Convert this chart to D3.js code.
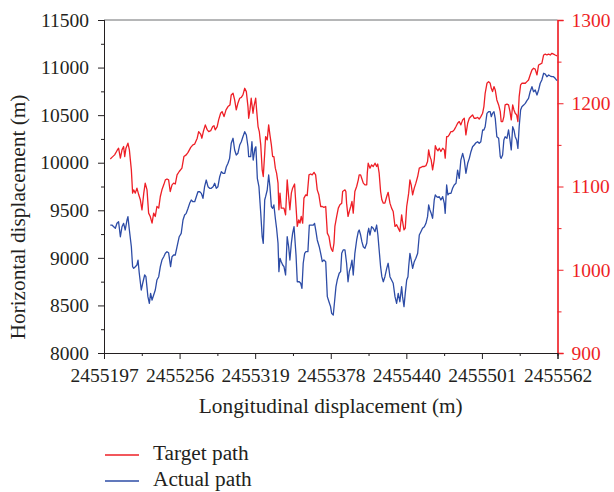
<!DOCTYPE html>
<html>
<head>
<meta charset="utf-8">
<script src="https://cdn.jsdelivr.net/npm/d3@7"></script>
<style>
  body { margin: 0; background: #fff; }
  svg text { font-family: "Liberation Serif", "Times New Roman", serif; fill: #231f20; }
</style>
</head>
<body>
<div id="chart"></div>
<script>
// trading-day index (0 = 2455197) and values
var targetDay = [3.5,4.4,5.9,7.2,8.1,9.1,10,10.9,11.5,12.2,13.3,14.1,15.2,15.9,16.5,17.4,18.3,19.3,20.2,21.1,22.1,22.9,23.9,24.8,25.7,26.7,27.6,28.5,29.4,30.4,31.3,32.2,33.2,34.1,35,35.9,36.8,37.8,38.7,39.6,40.6,41.8,
  43.3,44.4,45.7,46.7,48.2,49.4,50.4,51.8,52.6,53.7,54.4,55.2,56.3,57.4,58.2,59.3,60.4,61.1,61.8,62.9,63.7,64.8,65.6,66.7,67.8,68.9,70,70.7,71.7,72.6,73.5,74.4,75.4,76.3,77.2,78.2,79.1,80,80.4,81.1,81.8,82.8,83.3,
  84.3,84.8,85.6,86.3,87.1,87.9,88.5,89.3,89.8,90.7,91.5,92.2,93,93.7,94.4,95.2,95.9,96.7,97.2,97.8,98.5,99.3,100,100.9,101.8,102.6,103.3,104.1,104.8,105.9,106.7,107.4,108.2,108.9,109.6,110.4,111.1,112.1,112.9,113.9,114.8,115.7,116.7,117.6,118.5,119.4,120.4,121.3,122.2,123.2,124.1,125,125.9,
  126.5,127.1,127.8,128.3,129.3,130.2,131.1,132.1,132.6,133.9,134.4,134.8,135.6,136.3,137.1,137.8,138.5,139.4,140.4,141.3,141.8,142.6,143.2,144.1,145,146,146.3,146.8,147.8,148.7,149.6,150.6,151.5,152.1,152.9,153.7,154.4,155.2,156.1,157.1,157.9,158.9,159.8,160.7,161.7,162.6,163.5,164.4,165.4,165.9,166.7,167.4,168.2,168.9,
  169.3,170,170.7,171.5,172.4,173.3,174.3,175.2,176.1,177,178,178.9,179.8,180.4,181.1,181.8,182.6,183.5,184.1,184.8,185.6,186.3,187.2,188.2,189.1,189.6,190.4,191.1,191.8,192.8,193.7,194.6,195.6,196.5,197.4,198.3,199.3,200.2,201.1,202.1,203,203.9,204.8,205.7,206.7,207.6,208.5,209.4,210.4,211.1,
  211.8,212.8,213.7,214.6,215.2,215.9,216.7,217.4,218.3,219.3,220.2,220.7,221.5,222.2,222.9,223.9,224.8,225.6,226.3,227.1,227.8,228.5,229.3,230,230.7,231.5,232.2,233.2,234.1,235,235.9,236.8,237.8,238.7,239.6,240.6,241.5,242.4,243.3,244.3,245.2,246.1,247.1,248,248.9,249.8,250.7,251.7];
var targetPath = [1133,1135,1138,1143,1146,1134,1144,1148,1136,1146,1152,1144,1120,1092,1096,1092,1098,1090,1084,1072,1092,1104,1096,1068,1064,1056,1068,1064,1076,1074,1088,1096,1102,1108,1109,1108,1094,1102,1104,1103,1114,1118,
  1122,1136,1138,1141,1147,1150,1151,1158,1166,1163,1158,1166,1174,1168,1166,1167,1172,1173,1168,1172,1180,1188,1190,1184,1192,1196,1198,1210,1212,1204,1192,1200,1206,1207,1210,1218,1214,1196,1182,1192,1206,1188,1196,
  1206,1192,1172,1166,1150,1120,1112,1140,1160,1156,1174,1162,1150,1136,1136,1122,1116,1104,1072,1092,1074,1074,1074,1066,1108,1088,1072,1092,1098,1103,1076,1052,1060,1056,1064,1056,1086,1090,1089,1114,1115,1114,1117,1114,1096,1090,1076,1076,1075,1076,1044,1040,1028,
  1024,1022,1032,1052,1064,1074,1078,1080,1094,1096,1094,1080,1064,1070,1076,1082,1068,1094,1100,1108,1114,1114,1110,1104,1102,1102,1116,1128,1122,1126,1124,1128,1124,1127,1116,1094,1084,1080,1080,1088,1093,1080,1074,1070,1052,1054,1050,1046,1066,1058,1048,1050,1076,1086,
  1092,1108,1102,1090,1098,1104,1112,1122,1123,1124,1124,1125,1130,1144,1136,1132,1120,1132,1149,1145,1143,1146,1142,1146,1144,1134,1160,1160,1162,1166,1166,1168,1172,1176,1178,1174,1180,1182,1162,1176,1182,1184,1186,1182,1182,1183,1181,1184,1188,1196,
  1212,1224,1226,1224,1218,1214,1220,1216,1204,1198,1190,1178,1178,1184,1198,1199,1198,1190,1180,1198,1192,1188,1186,1178,1208,1222,1224,1224,1224,1226,1228,1234,1240,1242,1241,1234,1246,1247,1248,1258,1259,1258,1259,1258,1260,1259,1258,1257];

var actualDay = [3.5,4.4,5.4,6.3,7.2,8.1,9.1,10,10.9,11.8,12.8,13.3,14.1,15.2,15.9,16.5,17.4,18.3,18.9,19.6,20.7,21.5,22.6,23.3,24.4,25.2,25.9,26.7,27.6,28.5,29.4,30.4,31.3,32.2,33.2,34.1,35,35.9,37,37.8,38.7,39.6,40.6,41.8,
  42.9,43.9,44.8,45.7,46.7,47.6,48.5,49.4,50.4,51.3,52.2,53.2,54.1,55,55.9,56.8,57.8,58.7,59.6,60.6,61.5,62.4,63.3,64.3,65.2,66.1,67.1,68,68.9,69.8,70.7,71.7,72.6,73.5,74.4,75.4,76.3,77.2,78.2,79.1,80,80.4,81.5,82.2,82.9,83.9,
  84.4,85.2,86.1,87.1,87.9,88.5,89.3,89.8,90.7,91.5,92.2,93,93.7,94.4,95.2,95.9,96.7,97.2,97.8,98.5,99.3,100,100.9,101.8,102.6,103.3,104.1,104.8,105.6,106.7,107.4,108.5,109.3,110,110.7,111.5,112.2,113.3,114.1,115.2,116.3,117,117.8,118.5,119.6,120.4,121.3,122.2,123.2,124.1,125,125.9,
  126.5,127.4,128.2,128.9,129.6,130.7,131.5,132.1,132.9,133.9,134.8,135.6,136.3,137.1,137.8,138.5,139.4,140.4,141.3,141.8,142.6,143.3,144.1,145,146,146.5,147.1,147.8,148.7,149.6,150.6,151.5,152.2,152.9,153.7,154.4,155.2,156.1,157.1,157.9,158.9,159.8,160.7,161.7,162.6,163.5,164.4,165.4,165.9,166.7,167.4,168.2,168.9,
  169.3,170,170.7,171.5,172.4,173.3,174.3,175.2,176.1,177,178,178.9,179.8,180.4,181.1,181.8,182.6,183.5,184.1,184.8,185.6,186.3,187.2,188.2,189.1,189.6,190.4,191.1,191.8,192.8,193.7,194.6,195.6,196.5,197.4,198.3,199.3,200.2,201.1,202.1,203,203.9,204.8,205.7,206.7,207.6,208.5,209.4,210.4,211.1,
  211.8,212.8,213.7,214.6,215.2,215.9,216.7,217.4,218.3,219.3,220.2,220.7,221.5,222.2,222.9,223.9,224.8,225.6,226.3,227.1,227.8,228.5,229.3,230,230.7,231.5,232.2,233.2,234.1,235,235.9,236.8,237.8,238.7,239.6,240.6,241.5,242.4,243.3,244.3,245.2,246.1,247.1,248,248.9,249.8,250.7,251.7];
var actualPath = [9345,9345,9327,9311,9363,9380,9222,9327,9363,9293,9398,9433,9293,9117,8907,8890,8907,8925,8977,8838,8662,8733,8820,8802,8592,8522,8627,8557,8610,8662,8767,8802,8907,8977,9012,9048,9065,9054,8907,9012,9030,9030,9117,9222,
  9258,9398,9450,9468,9521,9573,9608,9590,9590,9643,9695,9695,9678,9626,9748,9818,9748,9731,9731,9748,9784,9731,9748,9853,9906,9889,9889,9958,9994,10046,10204,10257,10134,10081,10099,10186,10221,10273,10326,10291,10168,10063,10063,10221,10028,10151,
  10168,9836,9748,9468,9222,9153,9608,9643,9713,9871,9748,9538,9521,9556,9416,9311,9153,8855,8995,8960,8925,8907,8820,9222,9117,8977,9153,9258,9327,9030,8749,8749,8733,8680,8943,9048,9065,9065,9345,9345,9345,9363,9275,9188,9117,9048,8960,8977,8960,8592,8539,8487,
  8417,8399,8557,8697,8767,8838,8855,9048,9083,9083,8943,8749,8855,8907,8977,8820,9048,9188,9275,9293,9240,9170,9117,9100,9153,9258,9311,9240,9327,9311,9275,9345,9240,9083,8907,8802,8749,8802,8890,8943,8802,8767,8733,8592,8522,8627,8539,8697,8592,8487,8627,8767,8802,
  8907,9048,8977,8890,8960,8995,9048,9240,9275,9311,9327,9363,9433,9556,9503,9468,9416,9608,9661,9643,9636,9643,9608,9643,9573,9468,9766,9661,9678,9678,9731,9766,9784,9923,9836,10028,10099,10028,9889,9994,10046,10116,10168,10186,10210,10221,10204,10221,10344,10344,
  10378,10519,10536,10536,10484,10519,10536,10467,10273,10257,10063,10046,10081,10239,10273,10257,10344,10239,10134,10378,10344,10273,10239,10151,10378,10554,10589,10607,10624,10652,10677,10746,10799,10746,10764,10712,10764,10835,10869,10940,10932,10904,10922,10911,10904,10904,10887,10862];

var xTickDays = [0, 42, 84, 126, 168, 210, 252];
var xTickLabels = ["2455197", "2455256", "2455319", "2455378", "2455440", "2455501", "2455562"];
var xMinorDays = [21, 63, 105, 147, 189, 231];
var leftTicks = [8000, 8500, 9000, 9500, 10000, 10500, 11000, 11500];
var leftMinor = [8250, 8750, 9250, 9750, 10250, 10750, 11250];
var rightTicks = [900, 1000, 1100, 1200, 1300];
var rightMinor = [950, 1050, 1150, 1250];
var legendNames = ["Target path", "Actual path"];

var red = "#ee1f26", blue = "#2d4ca6", ink = "#231f20";
var W = 614, H = 492;
var margin = { top: 20, right: 56.5, bottom: 139, left: 104 };
var iw = W - margin.left - margin.right, ih = H - margin.top - margin.bottom;

var svg = d3.select("#chart").append("svg").attr("width", W).attr("height", H);
var g = svg.append("g").attr("transform", "translate(" + margin.left + "," + margin.top + ")");

var x = d3.scaleLinear().domain([0, 252]).range([0, iw]);
var yL = d3.scaleLinear().domain([8000, 11500]).range([ih, 0]);
var yR = d3.scaleLinear().domain([900, 1300]).range([ih, 0]);

var fs = "19.5px";   // tick labels
var fsTitle = "21.3px"; // axis titles, legend

// top border
g.append("line").attr("x1", 0).attr("x2", iw).attr("y1", 0).attr("y2", 0)
  .attr("stroke", "#6d6e71").attr("stroke-width", 1);

// left axis
g.append("g").call(d3.axisLeft(yL).tickValues(leftTicks).tickSize(6).tickPadding(9).tickFormat(d3.format("d")));
g.append("g").call(d3.axisLeft(yL).tickValues(leftMinor).tickSize(3).tickFormat(""));
// right axis
var ra = g.append("g").attr("transform", "translate(" + iw + ",0)")
  .call(d3.axisRight(yR).tickValues(rightTicks).tickSize(6).tickPadding(8).tickFormat(d3.format("d")));
var rm = g.append("g").attr("transform", "translate(" + iw + ",0)")
  .call(d3.axisRight(yR).tickValues(rightMinor).tickSize(4).tickFormat(""));
// bottom axis
g.append("g").attr("transform", "translate(0," + ih + ")")
  .call(d3.axisBottom(x).tickValues(xTickDays).tickSize(6).tickPadding(9).tickFormat(function (d, i) { return xTickLabels[i]; }));
g.append("g").attr("transform", "translate(0," + ih + ")")
  .call(d3.axisBottom(x).tickValues(xMinorDays).tickSize(3).tickFormat(""));

g.selectAll(".domain").attr("stroke", ink);
g.selectAll(".tick line").attr("stroke", ink);
g.selectAll(".tick text").style("font-size", fs).attr("fill", ink);
ra.selectAll(".domain, .tick line").attr("stroke", red);
rm.selectAll(".domain, .tick line").attr("stroke", red);
ra.selectAll(".tick text").attr("fill", red).style("fill", red);
ra.select(".domain").attr("stroke-width", 1.3);

// lines
var target = targetDay.map(function (d, i) { return { d: d, v: targetPath[i] }; });
var actual = actualDay.map(function (d, i) { return { d: d, v: actualPath[i] }; });

g.append("path").datum(actual)
  .attr("fill", "none").attr("stroke", blue).attr("stroke-width", 1.3).attr("stroke-linejoin", "round")
  .attr("d", d3.line().x(function (d) { return x(d.d); }).y(function (d) { return yL(d.v); }));
g.append("path").datum(target)
  .attr("fill", "none").attr("stroke", red).attr("stroke-width", 1.3).attr("stroke-linejoin", "round")
  .attr("d", d3.line().x(function (d) { return x(d.d); }).y(function (d) { return yR(d.v); }));

// axis titles
svg.append("text").attr("x", margin.left + iw / 2).attr("y", 413)
  .attr("text-anchor", "middle").style("font-size", fsTitle)
  .text("Longitudinal displacement (m)");
svg.append("text").attr("transform", "translate(25,217) rotate(-90)")
  .attr("text-anchor", "middle").style("font-size", fsTitle)
  .text("Horizontal displacement (m)");

// legend
var legend = svg.append("g");
[red, blue].forEach(function (c, i) {
  var yy = 455 + i * 26;
  legend.append("line").attr("x1", 105).attr("x2", 139).attr("y1", yy).attr("y2", yy)
    .attr("stroke", c).attr("stroke-width", 1.3);
  legend.append("text").attr("x", 153).attr("y", yy + 5).style("font-size", fsTitle).text(legendNames[i]);
});
</script>
</body>
</html>
